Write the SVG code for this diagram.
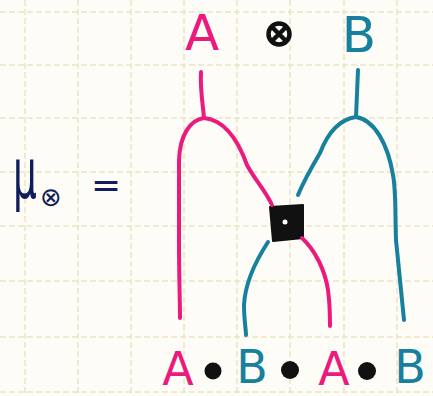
<svg xmlns="http://www.w3.org/2000/svg" width="433" height="396" viewBox="0 0 433 396">
<style>
.grid{stroke:#ebe3c6;stroke-width:1.5;stroke-dasharray:6 3;fill:none}
.pink{stroke:#ec1a7d;stroke-width:4;fill:none;stroke-linecap:round;stroke-linejoin:round}
.blue{stroke:#17809f;stroke-width:4;fill:none;stroke-linecap:round;stroke-linejoin:round}
.lbl{font-family:"DejaVu Sans",sans-serif;font-weight:normal}
.pt{fill:#ec1a7d}
.bt{fill:#17809f}
.dot{fill:#111}
</style>
<rect width="433" height="396" fill="#fdfcf7"/>
<g id="grid" class="grid">
<path d="M25,0V396M78,0V396M131,0V396M184,0V396M237,0V396M290,0V396M344,0V396M397,0V396"/>
<path d="M0,12H433M0,65H433M0,118H433M0,172H433M0,226H433M0,281H433M0,337H433M0,392H433"/>
</g>
<g id="lhs">
<text class="lbl" transform="translate(13,198) scale(0.75,1.4)" font-size="50" fill="#101c5c">μ</text>
<text class="lbl" x="40" y="206" font-size="26" fill="#101c5c">⊗</text>
<text class="lbl" x="91" y="197" font-size="36" fill="#101c5c">=</text>
</g>
<g id="top-labels">
<text class="lbl pt" x="202" y="50" font-size="50" text-anchor="middle">A</text>
<g id="tensor-top" stroke="#111" stroke-width="4.5" fill="none">
<circle cx="279" cy="34" r="10.5"/>
<path d="M272,27L286,41M286,27L272,41"/>
</g>
<text class="lbl bt" x="359" y="52" font-size="50" text-anchor="middle">B</text>
</g>
<g id="box">
<polygon points="270,207 303,205 303,238 273,241" fill="#111" stroke="#111" stroke-width="2" stroke-linejoin="round"/>
<circle cx="285" cy="222" r="2.5" fill="#fff"/>
</g>
<g id="connectors">
<path class="pink" d="M201,72C200,90 203,105 204,118"/>
<path class="pink" d="M204,118C190,120 180,135 179,160L179,240C179,280 180,300 180,318"/>
<path class="pink" d="M204,118C225,120 238,140 247,165C255,180 265,190 272,205"/>
<path class="pink" d="M302,238C315,250 325,270 328,290C330,305 330,315 330,326"/>
<path class="blue" d="M358,70L356,117"/>
<path class="blue" d="M356,117C335,120 325,140 320,153C310,170 303,183 298,195"/>
<path class="blue" d="M356,117C375,120 388,145 393,175C396,190 395,210 396,240L404,320"/>
<path class="blue" d="M268,242C255,262 245,285 244,305C244,320 246,330 246,335"/>
</g>
<g id="bottom-labels">
<text class="lbl pt" x="178" y="385" font-size="46" text-anchor="middle">A</text>
<circle class="dot" cx="213" cy="371" r="8.5"/>
<text class="lbl bt" x="252" y="383" font-size="46" text-anchor="middle">B</text>
<circle class="dot" cx="290" cy="370" r="9"/>
<text class="lbl pt" x="334" y="385" font-size="46" text-anchor="middle">A</text>
<circle class="dot" cx="367" cy="371" r="9"/>
<text class="lbl bt" x="410" y="383" font-size="46" text-anchor="middle">B</text>
</g>
</svg>
